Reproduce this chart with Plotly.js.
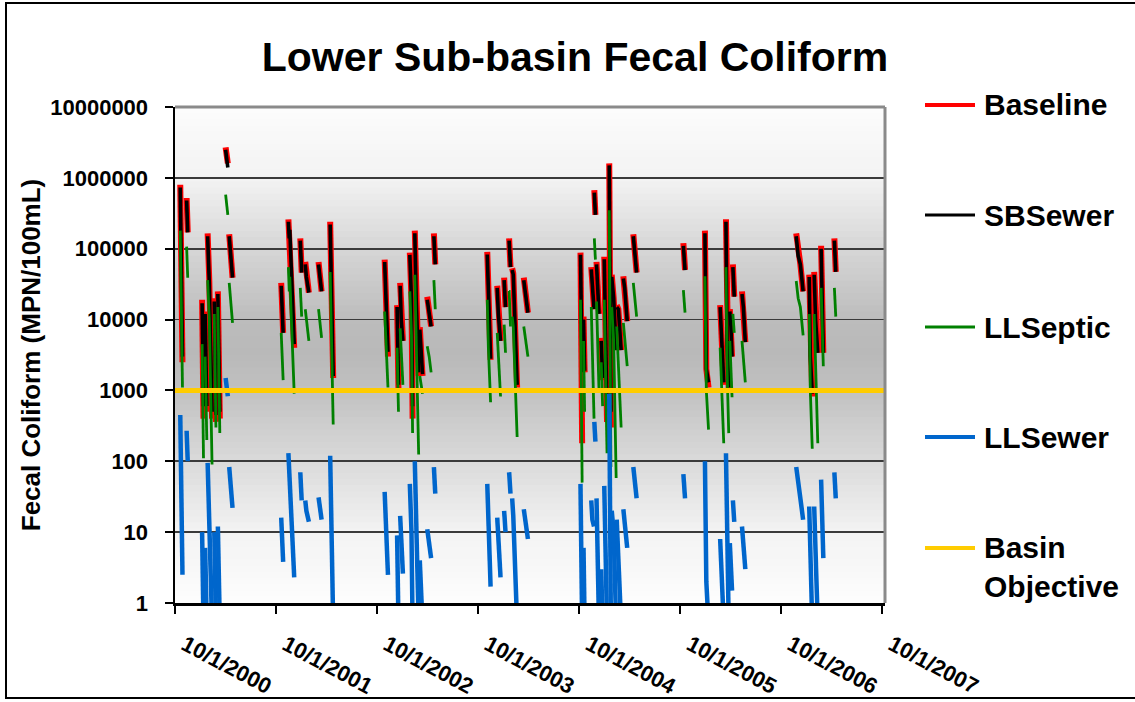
<!DOCTYPE html>
<html>
<head>
<meta charset="utf-8">
<script src="https://cdn.plot.ly/plotly-3.0.1.min.js"></script>
<style>
html,body{margin:0;padding:0;background:#fff;}
#chart{width:1135px;height:702px;}
</style>
</head>
<body>
<div id="chart"></div>
<script>
// ---- axis ticks ----
const tickDates = ['2000-10-01','2001-10-01','2002-10-01','2003-10-01','2004-10-01','2005-10-01','2006-10-01','2007-10-01'];
const tickLabels = ['10/1/2000','10/1/2001','10/1/2002','10/1/2003','10/1/2004','10/1/2005','10/1/2006','10/1/2007'];
const yTickVals = [1,10,100,1000,10000,100000,1000000,10000000];
const yTickText = ['1','10','100','1000','10000','100000','1000000','10000000'];

// ---- series (events separated by null) ----
const dates = [
 '2000-10-20','2000-10-28',null,
 '2000-11-12','2000-11-16',null,
 '2001-01-07','2001-01-12',null,
 '2001-01-18','2001-01-24',null,
 '2001-01-27','2001-02-02','2001-02-12',null,
 '2001-02-20','2001-02-26',null,
 '2001-03-05','2001-03-12',null,
 '2001-04-02','2001-04-10',null,
 '2001-04-15','2001-04-20','2001-04-27',null,
 '2001-10-20','2001-10-27',null,
 '2001-11-15','2001-11-18','2001-11-20','2001-12-06',null,
 '2001-12-28','2002-01-02',null,
 '2002-01-15','2002-01-19','2002-01-28',null,
 '2002-03-04','2002-03-08','2002-03-15',null,
 '2002-04-15','2002-04-26',null,
 '2002-10-29','2002-11-10',null,
 '2002-12-13','2002-12-18',null,
 '2002-12-24','2002-12-28','2003-01-03',null,
 '2003-01-28','2003-02-03','2003-02-07',null,
 '2003-02-15','2003-02-20','2003-03-01',null,
 '2003-03-05','2003-03-15',null,
 '2003-04-01','2003-04-08','2003-04-15',null,
 '2003-04-25','2003-04-30',null,
 '2003-11-04','2003-11-08','2003-11-16',null,
 '2003-12-10','2003-12-14','2003-12-22',null,
 '2004-01-04','2004-01-09',null,
 '2004-01-22','2004-01-27',null,
 '2004-02-02','2004-02-06','2004-02-20',null,
 '2004-03-15','2004-03-22','2004-03-30',null,
 '2004-10-06','2004-10-12',null,
 '2004-10-17','2004-10-21',null,
 '2004-11-14','2004-11-18','2004-11-24',null,
 '2004-11-25','2004-11-29',null,
 '2004-12-03','2004-12-06','2004-12-12',null,
 '2004-12-20','2004-12-25',null,
 '2004-12-31','2005-01-04','2005-01-10',null,
 '2005-01-18','2005-01-21','2005-01-24',null,
 '2005-01-27','2005-02-03','2005-02-12',null,
 '2005-02-14','2005-02-20','2005-03-02',null,
 '2005-03-10','2005-03-15','2005-03-24',null,
 '2005-04-15','2005-04-20','2005-04-27',null,
 '2005-10-13','2005-10-19',null,
 '2005-12-30','2006-01-04','2006-01-12',null,
 '2006-02-23','2006-03-02','2006-03-08',null,
 '2006-03-16','2006-03-20','2006-03-26',null,
 '2006-03-30','2006-04-03','2006-04-07',null,
 '2006-04-10','2006-04-15',null,
 '2006-05-13','2006-05-18','2006-05-25',null,
 '2006-11-25','2006-12-02','2006-12-10','2006-12-20',null,
 '2007-01-11','2007-01-15','2007-01-22',null,
 '2007-01-29','2007-02-03','2007-02-11',null,
 '2007-02-23','2007-02-27','2007-03-03',null,
 '2007-04-12','2007-04-17',null
];
const baseline = [
 8.0e5,2500,null,
 5.2e5,1.7e5,null,
 1.9e4,400,null,
 1.3e4,500,null,
 1.65e5,3.5e4,400,null,
 2.0e4,360,null,
 2.5e4,400,null,
 2.7e6,1.6e6,null,
 1.6e5,9.0e4,3.9e4,null,
 3.3e4,6.5e3,null,
 2.6e5,1.4e5,2.0e5,4.0e3,null,
 1.4e5,4.6e4,null,
 6.5e4,4.0e4,2.4e4,null,
 6.5e4,4.0e4,2.5e4,null,
 2.4e5,1500,null,
 7.0e4,3.0e3,null,
 1.6e4,1.0e3,null,
 3.3e4,1.0e4,5.0e3,null,
 8.8e4,1.9e4,400,null,
 1.8e5,2.0e4,1.6e3,null,
 7.8e3,1.6e3,null,
 2.1e4,1.3e4,8.0e3,null,
 1.65e5,6.0e4,null,
 9.0e4,2.0e4,2.7e3,null,
 3.0e4,1.2e4,5.0e3,null,
 3.9e4,1.5e4,null,
 1.4e5,5.5e4,null,
 5.3e4,4.5e4,1.1e3,null,
 3.9e4,2.0e4,1.25e4,null,
 8.8e4,180,null,
 1.1e4,1.8e3,null,
 5.5e4,3.0e4,1.4e4,null,
 6.7e5,3.0e5,null,
 6.5e4,3.0e4,1.2e4,null,
 5.5e3,1.4e3,null,
 7.7e4,1.0e4,360,null,
 1.6e6,3.0e3,300,null,
 4.3e4,2.0e4,3.7e3,null,
 1.6e4,1.4e4,3.7e3,null,
 4.1e4,2.8e4,9.5e3,null,
 1.6e5,9.0e4,4.6e4,null,
 1.2e5,5.0e4,null,
 1.8e5,2.0e3,1.1e3,null,
 1.6e4,3.0e3,1.2e3,null,
 2.6e5,5.0e3,1.0e3,null,
 1.4e4,8.0e3,3.0e3,null,
 6.0e4,2.1e4,null,
 2.5e4,1.5e4,4.8e3,null,
 1.65e5,8.0e4,6.0e4,2.5e4,null,
 4.3e4,3.0e3,820,null,
 4.7e4,1.0e4,3.4e3,null,
 1.1e5,1.5e4,3.4e3,null,
 1.4e5,4.7e4,null
];
const sbSewer = [
 7.3e5,3000,null,
 4.8e5,1.7e5,null,
 1.7e4,600,null,
 1.2e4,600,null,
 1.5e5,3.3e4,500,null,
 1.8e4,450,null,
 2.3e4,500,null,
 2.5e6,1.4e6,null,
 1.5e5,8.5e4,3.9e4,null,
 3.0e4,6.5e3,null,
 2.4e5,1.4e5,1.85e5,4.5e3,null,
 1.3e5,4.6e4,null,
 6.0e4,4.0e4,2.4e4,null,
 6.0e4,4.0e4,2.5e4,null,
 2.2e5,1600,null,
 6.5e4,3.5e3,null,
 1.5e4,1.2e3,null,
 3.0e4,1.0e4,5.0e3,null,
 8.2e4,1.9e4,600,null,
 1.65e5,2.0e4,1.8e3,null,
 7.2e3,1.7e3,null,
 1.9e4,1.3e4,8.0e3,null,
 1.5e5,6.0e4,null,
 8.3e4,2.0e4,2.8e3,null,
 2.8e4,1.2e4,5.0e3,null,
 3.6e4,1.5e4,null,
 1.3e5,5.5e4,null,
 5.0e4,4.3e4,1.2e3,null,
 3.6e4,2.0e4,1.25e4,null,
 8.2e4,1.8e3,null,
 1.0e4,1.9e3,null,
 5.1e4,3.0e4,1.4e4,null,
 6.2e5,3.0e5,null,
 6.0e4,3.0e4,1.2e4,null,
 5.0e3,1.5e3,null,
 7.1e4,1.0e4,500,null,
 1.5e6,3.0e3,500,null,
 4.0e4,2.0e4,3.7e3,null,
 1.5e4,1.4e4,3.7e3,null,
 3.8e4,2.8e4,9.5e3,null,
 1.5e5,9.0e4,4.6e4,null,
 1.1e5,5.0e4,null,
 1.65e5,2.0e3,1.3e3,null,
 1.5e4,3.0e3,1.3e3,null,
 2.4e5,5.0e3,1.1e3,null,
 1.3e4,8.0e3,3.0e3,null,
 5.5e4,2.1e4,null,
 2.3e4,1.5e4,4.8e3,null,
 1.5e5,8.0e4,6.0e4,2.5e4,null,
 4.0e4,3.0e3,900,null,
 4.3e4,1.0e4,3.4e3,null,
 1.0e5,1.5e4,3.4e3,null,
 1.3e5,4.7e4,null
];
const llSeptic = [
 1.8e5,1100,null,
 1.07e5,3.9e4,null,
 4.5e3,110,null,
 3000,200,null,
 3.6e4,1.0e4,90,null,
 1.2e4,300,null,
 1.5e4,250,null,
 5.8e5,3.0e5,null,
 3.3e4,2.0e4,9.0e3,null,
 6.5e3,1.4e3,null,
 5.5e4,2.5e4,4.0e4,900,null,
 2.8e4,1.1e4,null,
 1.4e4,1.0e4,5.0e3,null,
 1.4e4,9.0e3,5.5e3,null,
 4.7e4,330,null,
 1.3e4,1.1e3,null,
 4.0e3,500,null,
 7.5e3,3.0e3,1.2e3,null,
 2.5e4,6.0e3,250,null,
 4.3e4,5.0e3,125,null,
 1.6e3,900,null,
 4.2e3,3.0e3,1.8e3,null,
 3.6e4,1.4e4,null,
 1.9e4,4.0e3,680,null,
 6.5e3,3.0e3,820,null,
 8.5e3,3.4e3,null,
 2.6e4,8.0e3,null,
 1.1e4,8.0e3,220,null,
 8.0e3,5.0e3,3.0e3,null,
 1.9e4,50,null,
 5.0e3,500,null,
 1.5e4,3.0e3,400,null,
 1.4e5,7.0e4,null,
 1.8e4,5.0e3,1.0e3,null,
 2.5e3,600,null,
 1.9e4,3.0e3,130,null,
 3.5e5,2.0e3,83,null,
 1.5e4,5.0e3,58,null,
 8.0e3,2.0e3,300,null,
 9.0e3,5.0e3,2.2e3,null,
 3.3e4,2.0e4,1.1e4,null,
 2.6e4,1.25e4,null,
 4.1e4,1.0e3,280,null,
 4.0e3,1.0e3,180,null,
 5.5e4,2.0e3,250,null,
 5.0e3,2.0e3,800,null,
 1.2e4,6.5e3,null,
 5.0e3,3.0e3,1.3e3,null,
 3.5e4,2.0e4,1.5e4,6.0e3,null,
 1.2e4,1.0e3,150,null,
 1.2e4,2.0e3,180,null,
 2.8e4,6.0e3,2.2e3,null,
 2.8e4,1.1e4,null
];
const llSewer = [
 450,2.5,null,
 270,100,null,
 10,0.5,null,
 6,0.5,null,
 95,20,0.5,null,
 10,0.5,null,
 12,0.5,null,
 1500,830,null,
 83,50,22,null,
 16,3.8,null,
 130,70,100,2.3,null,
 70,28,null,
 28,20,14,null,
 31,22,15,null,
 120,0.5,null,
 37,2.5,null,
 9,0.5,null,
 17,8,2.6,null,
 48,10,0.5,null,
 100,5,0.5,null,
 4,0.5,null,
 11,7,4.3,null,
 83,35,null,
 48,10,1.7,null,
 16,8,2.3,null,
 20,10,null,
 70,35,null,
 30,17,0.5,null,
 21,12,8,null,
 48,0.5,null,
 6,0.5,null,
 28,15,12,null,
 360,190,null,
 30,10,0.5,null,
 3,0.5,null,
 45,10,0.5,null,
 900,30,0.5,null,
 20,10,0.5,null,
 15,5,0.5,null,
 21,13,6,null,
 83,50,30,null,
 66,30,null,
 100,2,0.5,null,
 8,2,0.5,null,
 130,10,0.5,null,
 7,4,1.5,null,
 28,14,null,
 12,7,3,null,
 83,45,30,15,null,
 23,3,0.5,null,
 23,3,0.5,null,
 55,12,4.3,null,
 70,30,null
];
const objectiveDates = ['2000-10-01','2007-10-12'];
const objectiveValues = [1000,1000];

const seriesNames = ['Baseline','SBSewer','LLSeptic','LLSewer','Basin<br>Objective'];
const seriesColors = ['#ff0000','#000000','#008000','#0066cc','#ffcc00'];

// ---- layout geometry (pixels of the 1135x702 page) ----
const W = 1135, H = 702;
const M = {l:175, r:250, t:107, b:99};
const PW = W - M.l - M.r, PH = H - M.t - M.b;
const px = x => (x - M.l) / PW;
const py = y => (H - M.b - y) / PH;

const FONT = 'Arial, "Liberation Sans", sans-serif';

// background gradient stripes
const gradStops = [[0,252],[0.143,243],[0.286,214],[0.43,188],[0.5,185],[0.57,193],[0.714,218],[0.857,243],[1,253]];
function grayAt(t){
  for (let i=1;i<gradStops.length;i++){
    if (t <= gradStops[i][0]){
      const a = gradStops[i-1], b = gradStops[i];
      const f = (t - a[0]) / (b[0] - a[0]);
      return Math.round(a[1] + f*(b[1]-a[1]));
    }
  }
  return 253;
}
const shapes = [];
const N = 80;
for (let i=0;i<N;i++){
  const t = (i+0.5)/N;
  const g = grayAt(t);
  shapes.push({type:'rect', xref:'paper', yref:'paper', layer:'below',
    x0:0, x1:1, y0:1-(i+1)/N - 0.002, y1:1-i/N,
    fillcolor:`rgb(${g},${g},${g})`, line:{width:0}});
}
shapes.push({type:'line', xref:'paper', yref:'paper', x0:0, x1:1, y0:1, y1:1, line:{color:'#8a8a8a', width:3}});
shapes.push({type:'line', xref:'paper', yref:'paper', x0:1, x1:1, y0:0, y1:1, line:{color:'#8a8a8a', width:3}});
shapes.push({type:'rect', xref:'paper', yref:'paper', x0:px(6), x1:px(1145), y0:py(698), y1:py(3), line:{color:'#000', width:2}, fillcolor:'rgba(0,0,0,0)'});

// legend drawn as shapes + annotations
const legendRowsY = [105, 215, 327, 437, 548];
const legendWidths = [4, 3, 3, 4, 4];
const annotations = [];
for (let i=0;i<seriesNames.length;i++){
  shapes.push({type:'line', xref:'paper', yref:'paper', x0:px(925), x1:px(975), y0:py(legendRowsY[i]), y1:py(legendRowsY[i]),
    line:{color:seriesColors[i], width:legendWidths[i]}});
  const multi = seriesNames[i].indexOf('<br>') >= 0;
  annotations.push({xref:'paper', yref:'paper', x:px(982), y: multi ? py(legendRowsY[i]-19) : py(legendRowsY[i]),
    xanchor:'left', yanchor: multi ? 'top' : 'middle', align:'left', showarrow:false,
    text:seriesNames[i], font:{family:FONT, size:30, weight:'bold', color:'#000'}});
}

const widths = [6, 3.6, 2.8, 4.5];
const seriesValues = [baseline, sbSewer, llSeptic, llSewer];
const traces = seriesValues.map((vals,i)=>({
  name:seriesNames[i], x:dates, y:vals, type:'scatter', mode:'lines', connectgaps:false,
  line:{color:seriesColors[i], width:widths[i]}
}));
traces.push({name:seriesNames[4], x:objectiveDates, y:objectiveValues, type:'scatter', mode:'lines',
  line:{color:seriesColors[4], width:5}});

const layout = {
  width:W, height:H,
  margin:M,
  paper_bgcolor:'#ffffff',
  plot_bgcolor:'rgba(0,0,0,0)',
  font:{family:FONT, color:'#000'},
  title:{text:'Lower Sub-basin Fecal Coliform', font:{family:FONT, size:41, weight:'bold', color:'#000'},
         x:575/W, xref:'container', xanchor:'center', y:1-57/H, yref:'container', yanchor:'middle'},
  xaxis:{type:'date', range:['2000-10-01','2007-10-12'], tickmode:'array', tickvals:tickDates, ticktext:tickLabels,
         tickangle:28, tickfont:{family:FONT, size:22, weight:'bold', color:'#000'},
         showgrid:false, zeroline:false, showline:true, linecolor:'#000', linewidth:2.5,
         ticks:'outside', ticklen:8, tickwidth:2, tickcolor:'#000', ticklabelstandoff:10, ticklabelshift:10},
  yaxis:{type:'log', range:[0,7], tickmode:'array', tickvals:yTickVals, ticktext:yTickText,
         tickfont:{family:FONT, size:22, weight:'bold', color:'#000'},
         showgrid:true, gridcolor:'#3a3a3a', gridwidth:1.6, zeroline:false,
         showline:true, linecolor:'#000', linewidth:2.5,
         ticks:'outside', ticklen:8, tickwidth:2, tickcolor:'#000', ticklabelstandoff:12,
         title:{text:'Fecal Coliform (MPN/100mL)', font:{family:FONT, size:26, weight:'bold', color:'#000'}, standoff:2}},
  showlegend:false,
  shapes:shapes,
  annotations:annotations,
  hovermode:false
};

Plotly.newPlot('chart', traces, layout, {displayModeBar:false, staticPlot:true});
</script>
</body>
</html>
